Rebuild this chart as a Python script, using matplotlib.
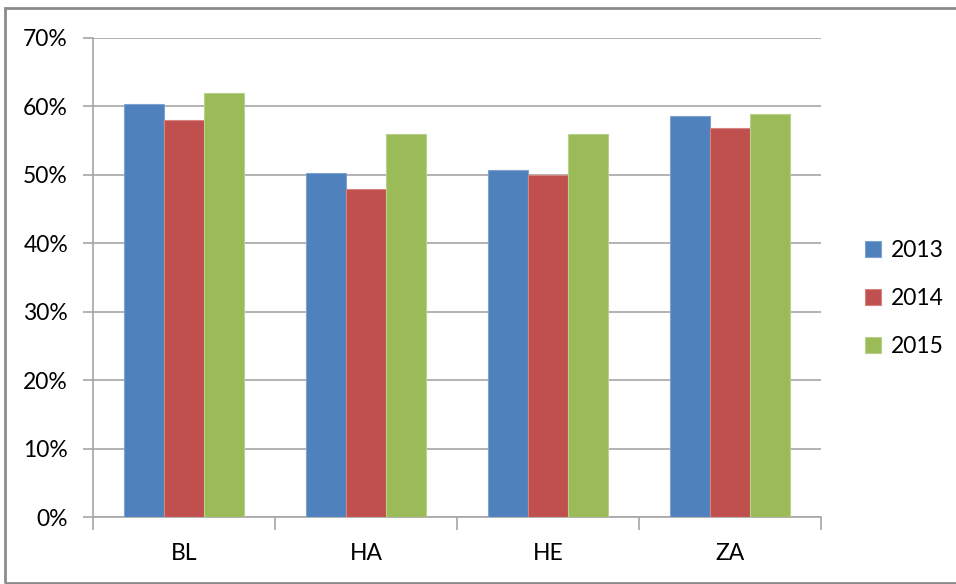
import matplotlib
matplotlib.use("Agg")
import matplotlib.pyplot as plt
import numpy as np
from matplotlib.patches import Rectangle
from matplotlib.ticker import FuncFormatter, FixedLocator

categories = ["BL", "HA", "HE", "ZA"]
series_names = ["2013", "2014", "2015"]
v2013 = [60.3, 50.2, 50.7, 58.6]
v2014 = [58.0, 47.9, 50.0, 56.8]
v2015 = [61.9, 56.0, 56.0, 58.9]
colors = ["#4F81BD", "#C0504D", "#9BBB59"]
edge_colors = ["#7FA3D0", "#D58482", "#B9D18C"]

plt.rcParams['font.family'] = ['Lato', 'DejaVu Sans']

W, H = 956, 584
fig = plt.figure(figsize=(W / 100, H / 100), dpi=100)
ax = fig.add_axes([93 / W, (H - 517) / H, (821 - 93) / W, (517 - 38) / H])

x = np.arange(len(categories))
bw = 0.22
for i, (vals, c, ec) in enumerate(zip([v2013, v2014, v2015], colors, edge_colors)):
    ax.bar(x + (i - 1) * bw, vals, width=bw, color=c, edgecolor=ec, linewidth=0.8,
           label=series_names[i], zorder=3)

ax.set_xlim(-0.5, len(categories) - 0.5)
ax.set_ylim(0, 70)
ax.set_yticks(np.arange(0, 71, 10))
ax.yaxis.set_major_formatter(FuncFormatter(lambda v, p: f"{int(v)}%"))
ax.set_xticks(x)
ax.set_xticklabels(categories)
ax.xaxis.set_minor_locator(FixedLocator(np.arange(-0.5, len(categories), 1.0)))

grid_c = "#A6A6A6"
ax.grid(axis='y', color=grid_c, linewidth=1.2, zorder=0)
ax.set_axisbelow(True)
for s in ["top", "right"]:
    ax.spines[s].set_visible(False)
for s in ["left", "bottom"]:
    ax.spines[s].set_color(grid_c)
    ax.spines[s].set_linewidth(1.2)

fs = 16.5
ax.tick_params(axis='y', which='major', length=7, color=grid_c, width=1.2,
               labelsize=fs, labelcolor="#000000", pad=11)
ax.tick_params(axis='x', which='major', length=0, labelsize=fs, pad=19)
ax.tick_params(axis='x', which='minor', length=9, color=grid_c, width=1.2)

leg = fig.legend(frameon=False, loc='upper left', bbox_to_anchor=(844 / W, 1 - 219 / H),
                 fontsize=fs, handlelength=0.7, handleheight=0.7,
                 handletextpad=0.45, labelspacing=1.19)

fig.patches.append(Rectangle((5 / W, 1.5 / H), 1.2, (583 - 8) / H, transform=fig.transFigure,
                             fill=False, edgecolor="#8C8C8C", linewidth=2))

fig.savefig("out.png", dpi=100)
